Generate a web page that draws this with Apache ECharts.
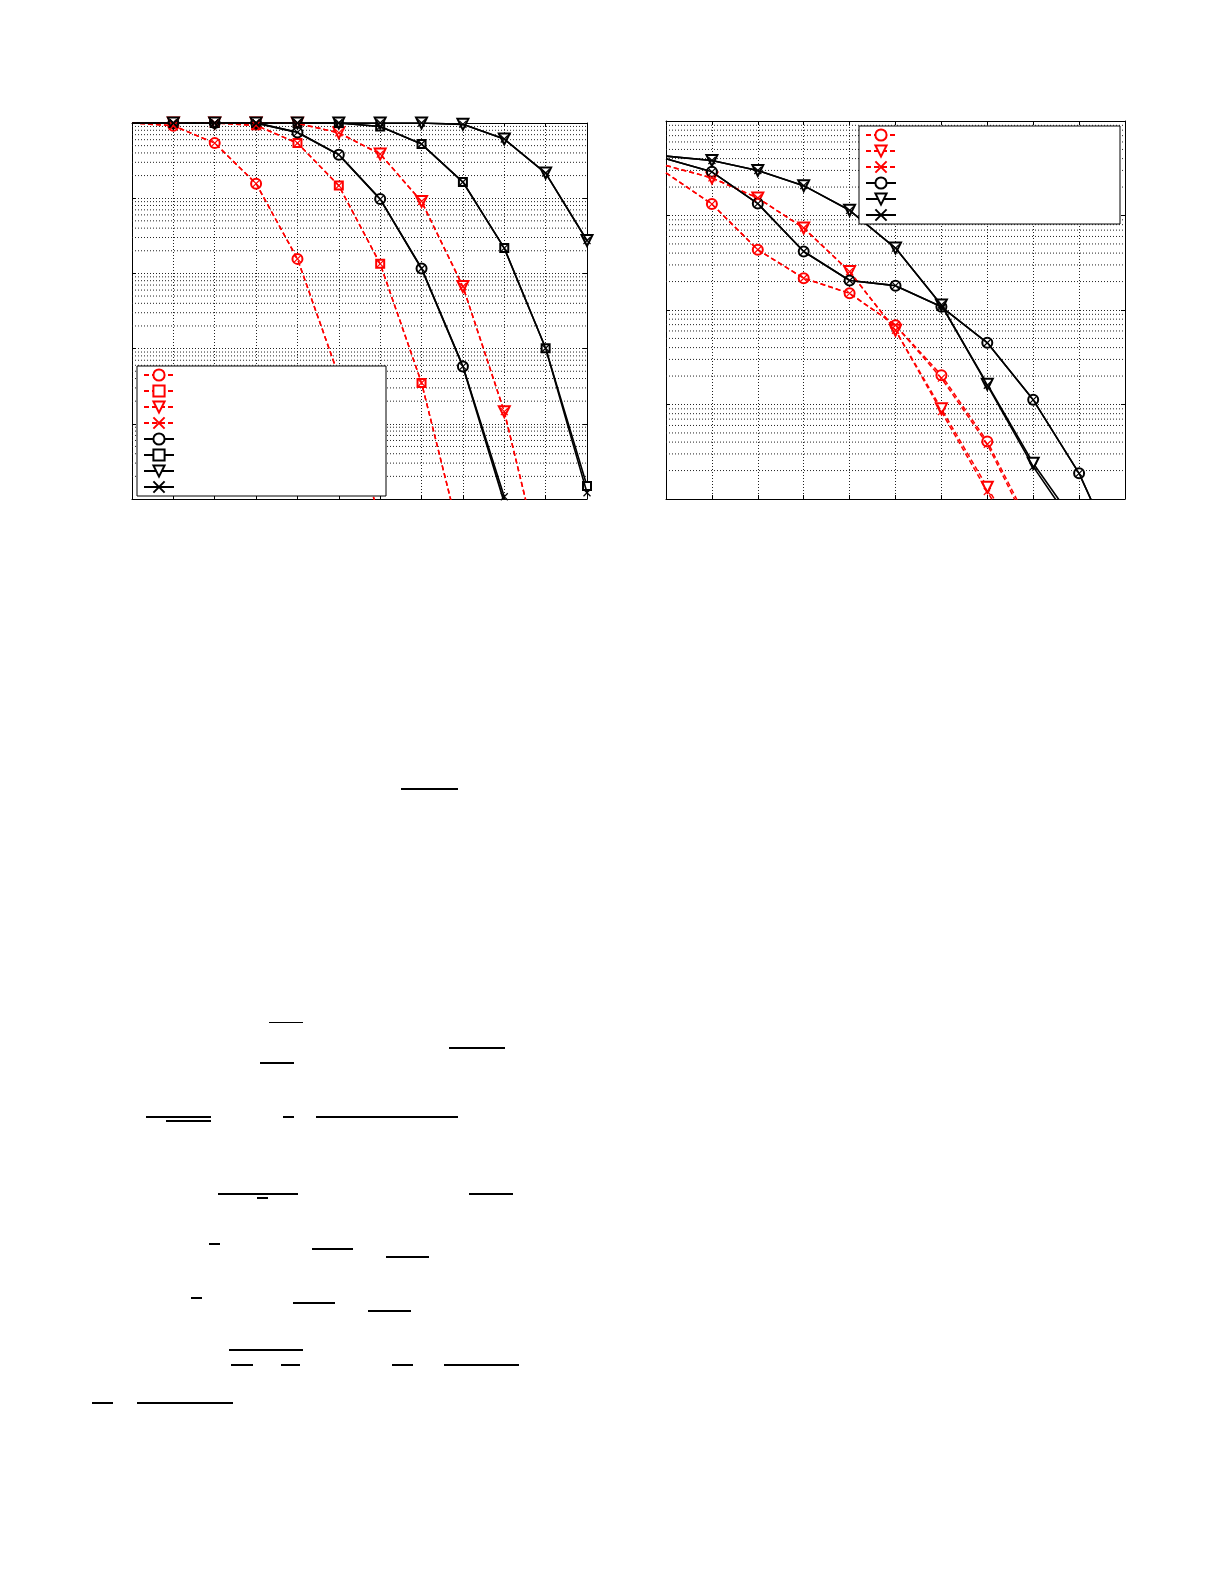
<!DOCTYPE html>
<html>
<head>
<meta charset="utf-8">
<script src="https://cdn.jsdelivr.net/npm/echarts@6/dist/echarts.min.js"></script>
<style>
html,body{margin:0;padding:0;background:#fff;}
#chart{width:1225px;height:1585px;}
</style>
</head>
<body>
<div id="chart"></div>
<script>
// ---------- Left panel data (x = 0..11, log y from 1e-5 to 1) ----------
const leftX = [0,1,2,3,4,5,6,7,8,9,10,11];
const L_redCircle   = [1, 0.92, 0.54, 0.156, 0.0156, 4.3e-4, 5.2e-6];
const L_redSquare   = [1, 1, 1, 0.93, 0.54, 0.147, 0.0134, 3.5e-4, 2.2e-6];
const L_redTri      = [1, 1, 1, 1, 0.99, 0.74, 0.386, 0.0906, 6.7e-3, 1.45e-4, 7.8e-7];
const L_blackCircle = [1, 1, 1, 1, 0.75, 0.379, 0.0973, 0.01163, 5.8e-4, 9e-6];
const L_blackSquare = [1, 1, 1, 1, 1, 1, 0.90, 0.525, 0.164, 0.0217, 1.01e-3, 1.49e-5];
const L_blackTri    = [1, 1, 1, 1, 1, 1, 1, 1, 0.96, 0.612, 0.216, 0.0274];
const L_blackX_c    = [1, 1, 1, 1, 0.75, 0.379, 0.0973, 0.01163, 5.8e-4, 1.07e-5];
const L_blackX_s    = [1, 1, 1, 1, 1, 1, 0.90, 0.525, 0.164, 0.0217, 1.01e-3, 1.21e-5];

// ---------- Right panel data (x = 0..10, log y from 1e-4 to 1) ----------
const rightX = [0,1,2,3,4,5,6,7,8,9,10];
const R_redCircle   = [0.283, 0.132, 0.0434, 0.0217, 0.015, 6.9e-3, 2.04e-3, 4.06e-4, 4.5e-5];
const R_redTri      = [0.338, 0.25, 0.153, 0.0737, 0.0255, 6.1e-3, 9.0e-4, 1.33e-4, 2e-5];
const R_redX_c      = [0.283, 0.132, 0.0434, 0.0217, 0.015, 6.9e-3, 1.9e-3, 3.8e-4, 4.0e-5];
const R_redX_t      = [0.338, 0.25, 0.153, 0.0737, 0.0255, 6.1e-3, 8.4e-4, 1.2e-4, 1.8e-5];
const R_blackCircle = [0.398, 0.29, 0.1336, 0.0416, 0.0205, 0.0181, 0.0108, 4.5e-3, 1.12e-3, 1.87e-4, 1.58e-5];
const R_blackTri    = [0.425, 0.382, 0.299, 0.207, 0.1135, 0.0452, 0.0113, 1.64e-3, 2.39e-4, 4.9e-5];
const R_blackX_t    = [0.425, 0.382, 0.299, 0.207, 0.1135, 0.0452, 0.0113, 1.60e-3, 2.2e-4, 4.3e-5];

// ---------- Decorative equation fraction bars below the plots ----------
const decorBars = [
  [401,458,788,2],[269,303,1022,1],[449,505,1047,2],[260,294,1062,2],
  [146,211,1116,2],[283,294,1116,2],[316,458,1116,2],[166,211,1120,2],
  [218,298,1193,2],[257,268,1197,2],[469,513,1193,2],
  [209,220,1243,2],[312,353,1248,2],[386,429,1256,2],
  [191,202,1297,2],[293,335,1302,2],[368,411,1310,2],
  [229,303,1349,2],[231,253,1364,2],[281,300,1364,2],[392,413,1364,2],[444,519,1364,2],
  [92,113,1402,2],[137,233,1402,2]
];

const RED = '#ff0000', BLACK = '#000000';
const XSYM = 'path://M0,0L10,10M0,10L10,0';

function pts(xs, ys){
  return ys.map((v,i)=> i===0 ? {value:[xs[i], v], symbol:'none'} : [xs[i], v]);
}
function ser(name, xs, ys, color, dashed, symbol, size, rotate, axisIdx, lw){
  const isX = symbol === XSYM;
  return {
    type:'line', name: name, data: pts(xs, ys),
    xAxisIndex: axisIdx, yAxisIndex: axisIdx,
    symbol: symbol, symbolSize: size, symbolRotate: rotate || 0, showAllSymbol: true,
    clip: true, animation: false, silent: true,
    lineStyle: {color: color, width: lw || (dashed ? 1.5 : 1.6), type: dashed ? [5,3] : 'solid'},
    itemStyle: isX ? {color: color, borderColor: color, borderWidth: 1.2}
                   : {color: color, borderColor: color, borderWidth: 1},
    emphasis: {disabled: true},
    z: isX ? 4 : 3
  };
}
// minor log gridlines (2..9 x 10^k), drawn through the axis scale
function minorSeries(axisIdx, kMin, xmax){
  const d = [];
  for (let k = kMin; k <= -1; k++) {
    for (let m = 2; m <= 9; m++) {
      const v = m * Math.pow(10, k);
      d.push([0, v], [xmax, v], ['-', '-']);
    }
  }
  return {
    type:'line', name:'_minor', data: d, xAxisIndex: axisIdx, yAxisIndex: axisIdx,
    symbol:'none', silent: true, animation: false, z: 1, connectNulls: false,
    lineStyle: {color:'#222', width: 1, type: [1,2]}, emphasis:{disabled:true}
  };
}
function axesFor(gridIdx, xmax, ymin){
  const common = {axisLine:{show:true, onZero:false, lineStyle:{color:'#000', width:1}},
    axisTick:{show:true, inside:true, length:4, lineStyle:{color:'#000'}},
    axisLabel:{show:false}};
  const split = {show:true, lineStyle:{color:'#222', width:1, type:[1,2]}};
  return {
    x: [
      Object.assign({gridIndex:gridIdx, type:'value', min:0, max:xmax, interval:1, position:'bottom', splitLine:split}, common),
      Object.assign({gridIndex:gridIdx, type:'value', min:0, max:xmax, interval:1, position:'top', splitLine:{show:false}}, common)
    ],
    y: [
      Object.assign({gridIndex:gridIdx, type:'log', logBase:10, min:ymin, max:1, position:'left', splitLine:split}, common),
      Object.assign({gridIndex:gridIdx, type:'log', logBase:10, min:ymin, max:1, position:'right', splitLine:{show:false}}, common)
    ]
  };
}

const A0 = axesFor(0, 11, 1e-5);
const A1 = axesFor(1, 10, 1e-4);

const series = [
  minorSeries(0, -5, 11), minorSeries(2, -4, 10),
  // left
  ser('L1', leftX, L_redCircle, RED, true, 'emptyCircle', 10, 0, 0),
  ser('L2', leftX, L_redSquare, RED, true, 'emptyRect', 8, 0, 0),
  ser('L3', leftX, L_redTri, RED, true, 'emptyTriangle', 11, 180, 0),
  ser('L4', leftX, L_redCircle, RED, true, XSYM, 7, 0, 0),
  ser('L4', leftX, L_redSquare, RED, true, XSYM, 7, 0, 0),
  ser('L4', leftX, L_redTri, RED, true, XSYM, 7, 0, 0),
  ser('L5', leftX, L_blackCircle, BLACK, false, 'emptyCircle', 10, 0, 0, 1.8),
  ser('L6', leftX, L_blackSquare, BLACK, false, 'emptyRect', 8, 0, 0),
  ser('L7', leftX, L_blackTri, BLACK, false, 'emptyTriangle', 11, 180, 0),
  ser('L8', leftX, L_blackX_c, BLACK, false, XSYM, 7, 0, 0),
  ser('L8', leftX, L_blackX_s, BLACK, false, XSYM, 7, 0, 0),
  ser('L8', leftX, L_blackTri, BLACK, false, XSYM, 7, 0, 0),
  // right
  ser('R1', rightX, R_redCircle, RED, true, 'emptyCircle', 10, 0, 2),
  ser('R2', rightX, R_redTri, RED, true, 'emptyTriangle', 11, 180, 2),
  ser('R3', rightX, R_redX_c, RED, true, XSYM, 7, 0, 2),
  ser('R3', rightX, R_redX_t, RED, true, XSYM, 7, 0, 2),
  ser('R4', rightX, R_blackCircle, BLACK, false, 'emptyCircle', 10, 0, 2),
  ser('R5', rightX, R_blackTri, BLACK, false, 'emptyTriangle', 11, 180, 2),
  ser('R6', rightX, R_blackCircle, BLACK, false, XSYM, 7, 0, 2),
  ser('R6', rightX, R_blackX_t, BLACK, false, XSYM, 7, 0, 2)
];

function legendFor(names, left, top, textW){
  return {
    data: names, orient:'vertical', left: left, top: top,
    itemWidth: 30, itemHeight: 14, itemGap: 2, padding: [2, 6, 2, 6],
    backgroundColor:'#fff', borderColor:'#000', borderWidth:1, borderRadius:0,
    formatter: function(){ return ' '; },
    textStyle: {fontSize: 10, lineHeight: 14, width: textW, fontFamily:'Liberation Sans'},
    selectedMode: false, z: 10
  };
}

const option = {
  backgroundColor:'#fff',
  animation: false,
  grid: [
    {left:132, top:123, width:455, height:376},
    {left:666, top:121, width:459, height:378}
  ],
  xAxis: A0.x.concat(A1.x),
  yAxis: A0.y.concat(A1.y),
  legend: [
    legendFor(['L1','L2','L3','L4','L5','L6','L7','L8'], 137, 366, 201),
    legendFor(['R1','R2','R3','R4','R5','R6'], 859, 126, 213)
  ],
  series: series,
  graphic: decorBars.map(d => ({type:'rect', silent:true,
    shape:{x:d[0], y:d[2], width:d[1]-d[0], height:d[3]}, style:{fill:'#000'}}))
};

const chart = echarts.init(document.getElementById('chart'), null, {renderer:'canvas'});
chart.setOption(option);
</script>
</body>
</html>
